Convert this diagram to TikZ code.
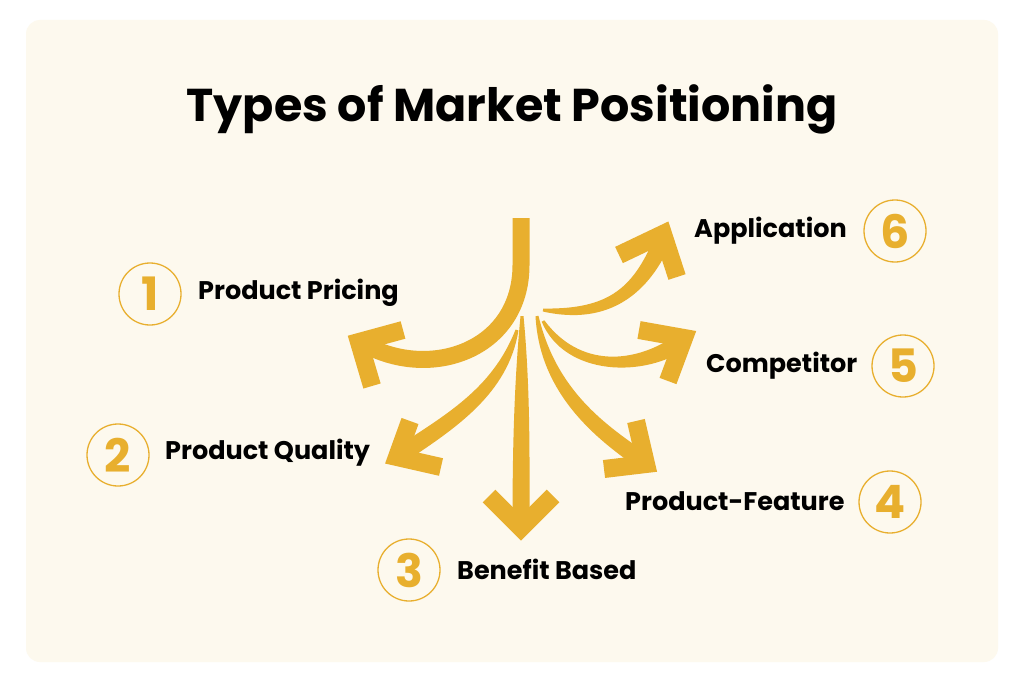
\documentclass[tikz,border=0pt]{standalone}
\usepackage{fontspec}
\usetikzlibrary{calc}
\setmainfont{Poppins}
\definecolor{gold}{HTML}{E8AF2E}
\definecolor{cream}{HTML}{FDF9EE}
% tapered branch: #1 start, #2 c1, #3 c2, #4 end, #5 half width at start, #6 half width further on
\newcommand\taperbranch[6]{%
  \fill[gold]
    ($(#1)!#5!90:(#2)$) .. controls ($(#2)!#6!-90:(#1)$) and ($(#3)!#6!90:(#4)$) .. ($(#4)!#6!-90:(#3)$)
    -- ($(#4)!#6!90:(#3)$) .. controls ($(#3)!#6!-90:(#4)$) and ($(#2)!#6!90:(#1)$) .. ($(#1)!#5!-90:(#2)$)
    -- cycle;}
\begin{document}
\begin{tikzpicture}[x=1pt,y=-1pt,
  branch/.style={draw=gold,line width=17pt,line cap=butt},
  head/.style={draw=gold,line width=18pt,line cap=butt,line join=miter},
  numcircle/.style={circle,draw=gold,line width=1.3pt,minimum size=62pt,inner sep=0pt,text=gold,font=\bfseries\fontsize{46}{46}\selectfont},
  lbl/.style={anchor=west,inner sep=0pt,font=\bfseries\fontsize{25.5}{28}\selectfont,text=black}]
\useasboundingbox (0,0) rectangle (1024,682);
\fill[white] (0,0) rectangle (1024,682);
\fill[cream,rounded corners=14pt] (26,20) rectangle (998,662);
\node[font=\bfseries\fontsize{46}{52}\selectfont] (title) at (512,109) {Types of Market Positioning};
% branches
\draw[branch] (521,218) -- (521,265) .. controls (521,350) and (430,382) .. (362,343);
\taperbranch{543,310}{610,318}{642,290}{664,237}{1.5pt}{8.5pt}
\taperbranch{543,321}{572,372}{640,372}{684,340}{1.5pt}{8.5pt}
\taperbranch{537,316}{548,392}{600,432}{646,463}{1.5pt}{8.5pt}
\taperbranch{522,316}{522,390}{521,460}{521,527}{1.5pt}{8.5pt}
\taperbranch{517,330}{500,392}{450,422}{397,457}{1.5pt}{8.5pt}
% heads
\draw[head] (403,330) -- (359,342) -- (372,386);
\draw[head] (619,255) -- (663,234) -- (677,277);
\draw[head] (639,330) -- (684,338) -- (668,381);
\draw[head] (636,421) -- (646,464) -- (604,469);
\draw[head] (489,496) -- (521,528) -- (553,496);
\draw[head] (410,421) -- (397,457) -- (441,467);
% circles
\node[numcircle] (n1) at (150,294) {1};
\node[numcircle] (n2) at (118,455) {2};
\node[numcircle] (n3) at (409,570) {3};
\node[numcircle] (n4) at (890,502) {4};
\node[numcircle] (n5) at (903,366) {5};
\node[numcircle] (n6) at (895,231) {6};
% labels
\node[lbl] (l1) at (198,293) {Product Pricing};
\node[lbl] (l2) at (165,453) {Product Quality};
\node[lbl] (l3) at (457,569) {Benefit Based};
\node[lbl] (l4) at (625,501) {Product-Feature};
\node[lbl] (l5) at (706,366) {Competitor};
\node[lbl] (l6) at (694,231) {Application};
\end{tikzpicture}
\end{document}
